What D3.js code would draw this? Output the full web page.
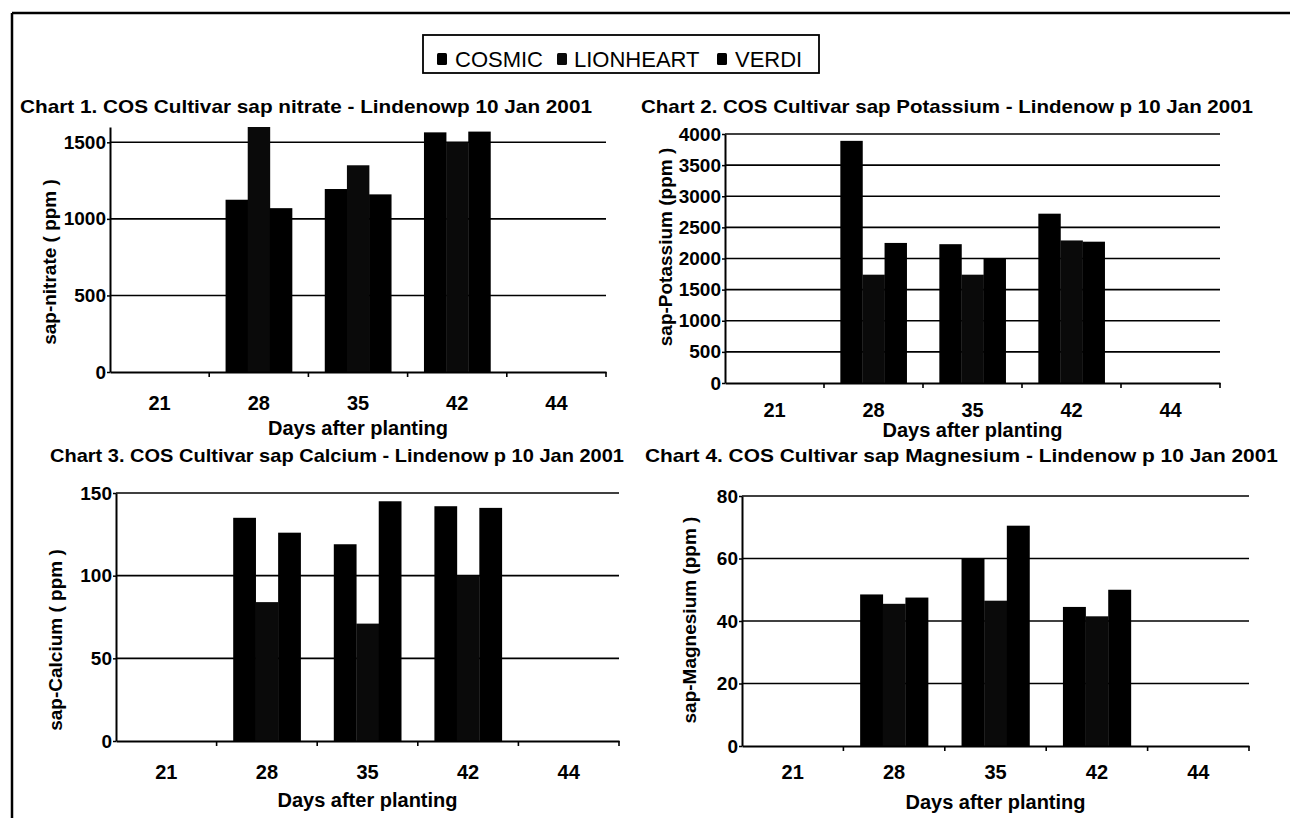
<!DOCTYPE html>
<html>
<head>
<meta charset="utf-8">
<script src="https://cdn.jsdelivr.net/npm/d3@7"></script>
<style>
  html, body { margin: 0; padding: 0; background: #fff; }
  svg { display: block; font-family: "Liberation Sans", Arial, Helvetica, sans-serif; }
  .bold { font-weight: bold; }
</style>
</head>
<body>
<svg id="chart" width="1290" height="818"></svg>
<script>
// ---------------- DATA ----------------
const categories = ["21", "28", "35", "42", "44"];
const seriesNames = ["COSMIC", "LIONHEART", "VERDI"];

const nitrateCOSMIC    = [0, 1125, 1195, 1565, 0];
const nitrateLIONHEART = [0, 1600, 1350, 1500, 0];
const nitrateVERDI     = [0, 1070, 1160, 1570, 0];

const potassiumCOSMIC    = [0, 3890, 2230, 2720, 0];
const potassiumLIONHEART = [0, 1740, 1740, 2290, 0];
const potassiumVERDI     = [0, 2250, 2000, 2270, 0];

const calciumCOSMIC    = [0, 135, 119, 142, 0];
const calciumLIONHEART = [0, 84, 71, 100, 0];
const calciumVERDI     = [0, 126, 145, 141, 0];

const magnesiumCOSMIC    = [0, 48.5, 60, 44.5, 0];
const magnesiumLIONHEART = [0, 45.5, 46.5, 41.5, 0];
const magnesiumVERDI     = [0, 47.5, 70.5, 50, 0];

const nitrateTicks   = [0, 500, 1000, 1500];
const potassiumTicks = [0, 500, 1000, 1500, 2000, 2500, 3000, 3500, 4000];
const calciumTicks   = [0, 50, 100, 150];
const magnesiumTicks = [0, 20, 40, 60, 80];

const titles = [
  "Chart 1. COS Cultivar sap nitrate - Lindenowp 10 Jan 2001",
  "Chart 2. COS Cultivar sap Potassium - Lindenow  p 10 Jan 2001",
  "Chart 3. COS Cultivar sap Calcium - Lindenow  p 10 Jan 2001",
  "Chart 4. COS Cultivar sap Magnesium - Lindenow  p 10 Jan 2001"
];
const yTitles = ["sap-nitrate ( ppm )", "sap-Potassium (ppm )", "sap-Calcium ( ppm )", "sap-Magnesium (ppm )"];
const xTitle = "Days after planting";

// ---------------- LAYOUT ----------------
const charts = [
  { series: [nitrateCOSMIC, nitrateLIONHEART, nitrateVERDI], ticks: nitrateTicks, yMax: 1600,
    title: titles[0], yTitle: yTitles[0], gridTop: false,
    left: 110, right: 606, top: 127, bottom: 372,
    titleX: 20, titleY: 113, titleW: 572, yTitleX: 49, yTitleY: 262, labelDy: 31, xTitleDy: 56 },
  { series: [potassiumCOSMIC, potassiumLIONHEART, potassiumVERDI], ticks: potassiumTicks, yMax: 4000,
    title: titles[1], yTitle: yTitles[1], gridTop: true,
    left: 725, right: 1220, top: 134, bottom: 383,
    titleX: 641, titleY: 113, titleW: 612, yTitleX: 665, yTitleY: 247, labelDy: 27, xTitleDy: 47 },
  { series: [calciumCOSMIC, calciumLIONHEART, calciumVERDI], ticks: calciumTicks, yMax: 150,
    title: titles[2], yTitle: yTitles[2], gridTop: true,
    left: 116, right: 619, top: 493, bottom: 741,
    titleX: 50, titleY: 462, titleW: 574, yTitleX: 55, yTitleY: 640, labelDy: 31, xTitleDy: 59 },
  { series: [magnesiumCOSMIC, magnesiumLIONHEART, magnesiumVERDI], ticks: magnesiumTicks, yMax: 80,
    title: titles[3], yTitle: yTitles[3], gridTop: true,
    left: 742, right: 1249, top: 496, bottom: 746,
    titleX: 645, titleY: 462, titleW: 633, yTitleX: 689, yTitleY: 620, labelDy: 26, xTitleDy: 56 }
];

const barColors = d3.scaleOrdinal().domain(seriesNames).range(["#000000", "#0a0a0a", "#000000"]);
const FONT = "'Liberation Sans', Arial, Helvetica, sans-serif";

const svg = d3.select("#chart");

// outer frame (top and left edges)
svg.append("line").attr("x1", 12).attr("y1", 13).attr("x2", 1290).attr("y2", 13)
  .attr("stroke", "#000").attr("stroke-width", 2.5);
svg.append("line").attr("x1", 12).attr("y1", 13).attr("x2", 12).attr("y2", 818)
  .attr("stroke", "#000").attr("stroke-width", 2.5);

// legend
const legend = svg.append("g");
legend.append("rect").attr("x", 423).attr("y", 35).attr("width", 396).attr("height", 38)
  .attr("fill", "#fff").attr("stroke", "#000").attr("stroke-width", 1.8);
const legendPos = [{ sq: 437, tx: 455 }, { sq: 557, tx: 574 }, { sq: 717, tx: 735 }];
seriesNames.forEach((name, i) => {
  legend.append("rect").attr("x", legendPos[i].sq).attr("y", 53).attr("width", 10).attr("height", 12)
    .attr("rx", 1.5).attr("fill", barColors(name));
  legend.append("text").attr("x", legendPos[i].tx).attr("y", 67)
    .attr("font-size", 22).attr("fill", "#000").text(name);
});

charts.forEach(c => {
  const g = svg.append("g");
  const x = d3.scaleBand().domain(categories).range([c.left, c.right]).padding(0);
  const bw = x.bandwidth();
  const xs = d3.scaleBand().domain(seriesNames).range([0.165 * bw, 0.835 * bw]).padding(0);
  const y = d3.scaleLinear().domain([0, c.yMax]).range([c.bottom, c.top]);

  // title
  g.append("text").attr("class", "bold").attr("x", c.titleX).attr("y", c.titleY)
    .attr("font-size", 19).attr("textLength", c.titleW).attr("lengthAdjust", "spacingAndGlyphs")
    .text(c.title);

  // gridlines
  const gridVals = c.ticks.filter(t => t > 0 && (c.gridTop || t < c.yMax));
  g.append("g").selectAll("line").data(gridVals).join("line")
    .attr("x1", c.left).attr("x2", c.right)
    .attr("y1", d => y(d)).attr("y2", d => y(d))
    .attr("stroke", "#000").attr("stroke-width", 1.6);

  // bars
  const rows = categories.map((cat, i) => ({ cat, vals: seriesNames.map((s, k) => ({ s, v: c.series[k][i] })) }));
  g.append("g").selectAll("g").data(rows).join("g")
    .attr("transform", d => `translate(${x(d.cat)},0)`)
    .selectAll("rect").data(d => d.vals.filter(e => e.v > 0)).join("rect")
    .attr("x", e => xs(e.s)).attr("width", xs.bandwidth() + 0.3)
    .attr("y", e => y(e.v)).attr("height", e => y(0) - y(e.v))
    .attr("fill", e => barColors(e.s));

  // y axis
  const yAxis = d3.axisLeft(y).tickValues(c.ticks).tickFormat(d3.format("d"))
    .tickSize(3).tickPadding(1).tickSizeOuter(0);
  const ya = g.append("g").attr("transform", `translate(${c.left},0)`).call(yAxis);
  ya.select(".domain").attr("stroke", "#000").attr("stroke-width", 2);
  ya.selectAll(".tick line").attr("stroke", "#000").attr("stroke-width", 1.5);
  ya.selectAll("text").attr("font-size", 19).attr("font-weight", "bold").attr("fill", "#000")
    .attr("font-family", FONT);

  // x axis (labels at band centres, ticks at band boundaries)
  const xAxis = d3.axisBottom(x).tickSize(0).tickPadding(c.labelDy - 7).tickSizeOuter(0);
  const xa = g.append("g").attr("transform", `translate(0,${c.bottom})`).call(xAxis);
  xa.select(".domain").attr("stroke", "#000").attr("stroke-width", 2);
  xa.selectAll("text").attr("font-size", 20).attr("font-weight", "bold").attr("fill", "#000")
    .attr("font-family", FONT);
  g.append("g").selectAll("line").data(categories).join("line")
    .attr("x1", d => x(d) + bw).attr("x2", d => x(d) + bw)
    .attr("y1", c.bottom).attr("y2", c.bottom + 5)
    .attr("stroke", "#000").attr("stroke-width", 1.6);

  // axis titles
  g.append("text").attr("class", "bold").attr("text-anchor", "middle")
    .attr("x", (c.left + c.right) / 2).attr("y", c.bottom + c.xTitleDy + 7)
    .attr("font-size", 20).text(xTitle);
  g.append("text").attr("class", "bold").attr("text-anchor", "middle")
    .attr("transform", `translate(${c.yTitleX + 7},${c.yTitleY}) rotate(-90)`)
    .attr("font-size", 19).text(c.yTitle);
});
</script>
</body>
</html>
